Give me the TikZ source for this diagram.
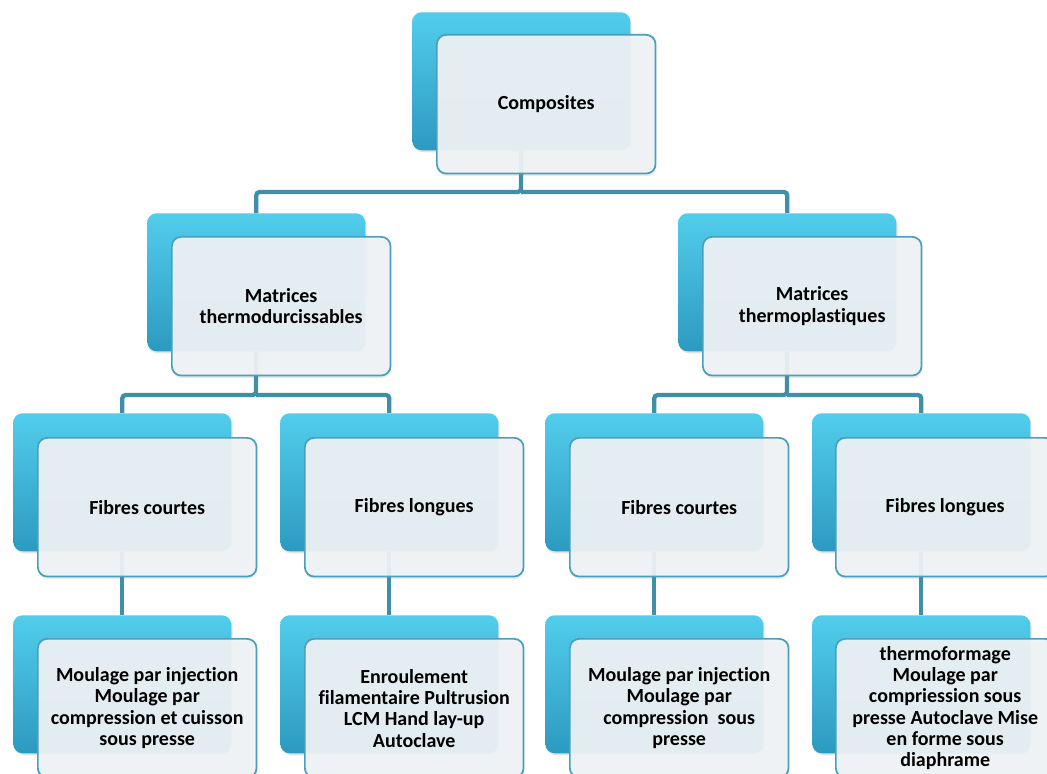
\documentclass[tikz,border=0pt]{standalone}
\usepackage{fontspec}
\setmainfont{Carlito}[Ligatures=NoCommon]
\usetikzlibrary{shadows}

\definecolor{cyanTop}{HTML}{52CDEC}
\definecolor{cyanBot}{HTML}{2C9AC0}
\definecolor{paneFill}{HTML}{F0F3F5}
\definecolor{paneEdge}{HTML}{4AA0BC}
\definecolor{linkCol}{HTML}{3F8FA9}

\tikzset{
  backcard/.style={rectangle, rounded corners=7pt, anchor=north west,
    minimum width=163.5pt, minimum height=103.5pt, inner sep=0pt,
    top color=cyanTop, bottom color=cyanBot, draw=none,
    drop shadow={opacity=0.22, shadow xshift=1pt, shadow yshift=-1.5pt}},
  frontcard/.style={rectangle, rounded corners=7pt, anchor=north west,
    minimum width=164pt, minimum height=104pt, inner sep=2pt,
    fill=paneFill, fill opacity=0.93, text opacity=1,
    draw=paneEdge, line width=1.3pt, align=center, text=black,
    font=\bfseries\fontsize{15}{16}\selectfont,
    drop shadow={opacity=0.16, shadow xshift=0.5pt, shadow yshift=-2pt}},
  link/.style={draw=linkCol, line width=3.2pt, rounded corners=2.5pt},
}

\begin{document}
\begin{tikzpicture}[x=0.75pt, y=-0.75pt]
\useasboundingbox (0,0) rectangle (1047,774);

% back cards
\node[backcard] (top-b) at (412,12) {};
\node[backcard] (l2a-b) at (147,213) {};
\node[backcard] (l2b-b) at (678,213) {};
\node[backcard] (c1-b) at (13,413) {};
\node[backcard] (c2-b) at (280,413) {};
\node[backcard] (c3-b) at (545,413) {};
\node[backcard] (c4-b) at (812,413) {};
\node[backcard] (d1-b) at (13,615) {};
\node[backcard] (d2-b) at (280,615) {};
\node[backcard] (d3-b) at (545,615) {};
\node[backcard] (d4-b) at (812,615) {};

% connectors
\coordinate (j0) at (521,192);
\coordinate (j1) at (256,395);
\coordinate (j2) at (787,395);
\draw[link] (top-b.south) -- (j0) -| (l2a-b.north);
\draw[link] (j0) -| (l2b-b.north);
\draw[link] (l2a-b.south) -- (j1) -| (c1-b.north);
\draw[link] (j1) -| (c2-b.north);
\draw[link] (l2b-b.south) -- (j2) -| (c3-b.north);
\draw[link] (j2) -| (c4-b.north);
\draw[link] (c1-b.south) -- (d1-b.north);
\draw[link] (c2-b.south) -- (d2-b.north);
\draw[link] (c3-b.south) -- (d3-b.north);
\draw[link] (c4-b.south) -- (d4-b.north);

% front cards
\node[frontcard] (top) at (436,34) {Composites};
\node[frontcard] (l2a) at (171,236) {Matrices\\thermodurcissables};
\node[frontcard] (l2b) at (702,236) {Matrices\\thermoplastiques};
\node[frontcard] (c1) at (37,437) {Fibres courtes};
\node[frontcard] (c2) at (304,437) {Fibres longues};
\node[frontcard] (c3) at (569,437) {Fibres courtes};
\node[frontcard] (c4) at (835,437) {Fibres longues};
\node[frontcard] (d1) at (37,638) {Moulage par injection\\Moulage par\\compression et cuisson\\sous presse};
\node[frontcard] (d2) at (304,638) {Enroulement\\filamentaire Pultrusion\\LCM Hand lay-up\\Autoclave};
\node[frontcard] (d3) at (569,638) {Moulage par injection\\Moulage par\\compression\ \ sous\\presse};
\node[frontcard] (d4) at (835,638) {thermoformage\\Moulage par\\compriession sous\\presse Autoclave Mise\\en forme sous\\diaphrame};
\end{tikzpicture}
\end{document}
